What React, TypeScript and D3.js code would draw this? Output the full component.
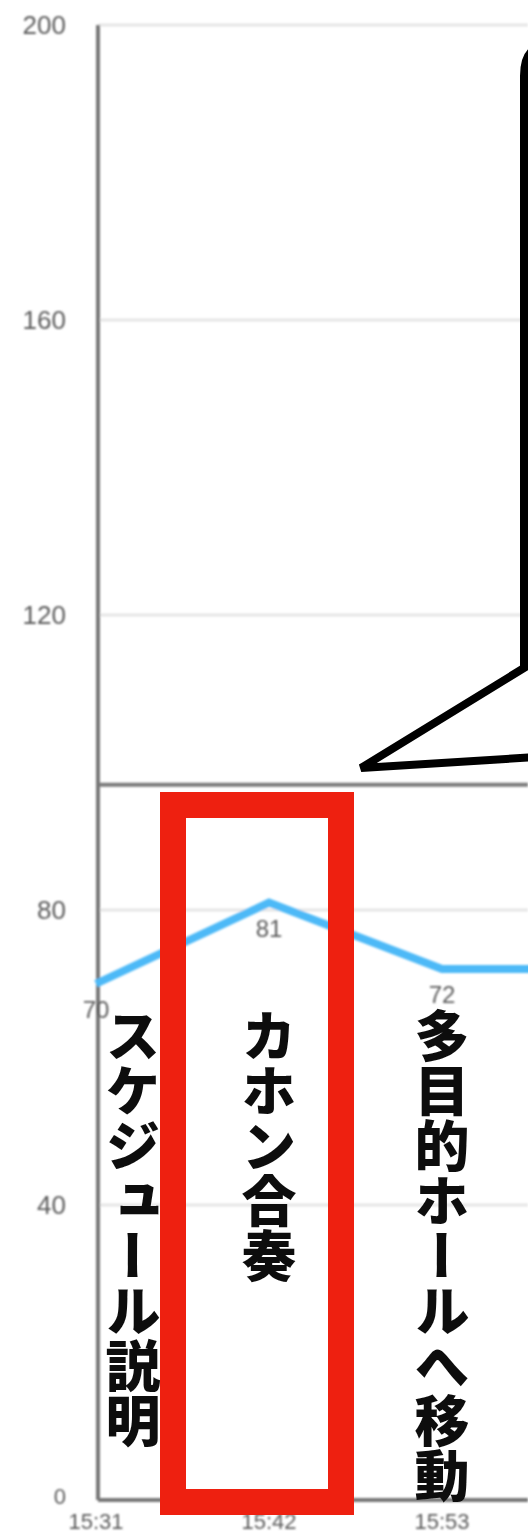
import React from "react";
import * as d3 from "d3";

// Pulse readings over the session
const times = ["15:31", "15:42", "15:53", "16:04"];
const pulse = [70, 81, 72, 72];
const activities = ["スケジュール説明", "カホン合奏", "多目的ホールへ移動"];
const yTicks = [0, 40, 80, 120, 160, 200];
const referenceLevel = 97;

const W = 528;
const H = 1537;

export default function App() {
  const axisX = 98;
  const x = d3.scalePoint<string>().domain(times).range([96, 96 + 173 * (times.length - 1)]);
  const y = d3.scaleLinear().domain([0, 200]).range([1500, 25]);

  const line = d3
    .line<number>()
    .x((_, i) => x(times[i]) as number)
    .y((d) => y(d));

  const visible = times.map((t, i) => i).filter((i) => (x(times[i]) as number) < W - 30);
  const red = "#ee2010";

  return (
    <svg
      width={W}
      height={H}
      style={{ position: "absolute", left: 0, top: 0, display: "block", background: "#fff" }}
      fontFamily="Liberation Sans, Arial, sans-serif"
    >
      <defs>
        <filter id="soft" x="-5%" y="-5%" width="110%" height="110%">
          <feGaussianBlur stdDeviation="0.9" />
        </filter>
        <filter id="softer" x="-5%" y="-5%" width="110%" height="110%">
          <feGaussianBlur stdDeviation="0.5" />
        </filter>
      </defs>
      <rect width={W} height={H} fill="#fff" />

      <g filter="url(#soft)">
        {/* gridlines */}
        {yTicks.filter((t) => t > 0).map((t) => (
          <line key={t} x1={axisX} x2={W} y1={y(t)} y2={y(t)} stroke="#e6e6e6" strokeWidth={3} />
        ))}
        {/* reference level */}
        <line x1={axisX} x2={W} y1={y(referenceLevel)} y2={y(referenceLevel)} stroke="#7a7a7a" strokeWidth={4} />
        {/* axes */}
        <line x1={axisX} x2={axisX} y1={y(200)} y2={y(0)} stroke="#777" strokeWidth={4} />
        <line x1={axisX} x2={W} y1={y(0)} y2={y(0)} stroke="#777" strokeWidth={4} />
        {/* y tick labels */}
        {yTicks.map((t) => (
          <text key={t} x={66} y={y(t) + (t === 0 ? 4 : 9)} textAnchor="end" fontSize={t === 0 ? 22 : 26} fill="#5c5c5c">
            {t}
          </text>
        ))}
        {/* x tick labels */}
        {visible.map((i) => (
          <text key={times[i]} x={x(times[i]) as number} y={1529} textAnchor="middle" fontSize={22} fill="#5c5c5c">
            {times[i]}
          </text>
        ))}
        {/* series */}
        <path d={line(pulse) ?? ""} fill="none" stroke="#4db9f7" strokeWidth={8} strokeLinejoin="miter" />
        {visible.map((i) => (
          <text key={i} x={x(times[i]) as number} y={y(pulse[i]) + 34} textAnchor="middle" fontSize={24} fill="#5c5c5c">
            {pulse[i]}
          </text>
        ))}
      </g>

      {/* activity names */}
      <g filter="url(#softer)">
        {activities.map((a, i) => (
          <text
            key={a}
            x={Math.max(x(times[i]) as number, axisX + 35)}
            y={1008}
            fontSize={55}
            fontWeight={900}
            fill="#111"
            fontFamily="'Noto Sans CJK JP', sans-serif"
            style={{ writingMode: "vertical-rl" } as React.CSSProperties}
          >
            {a}
          </text>
        ))}
      </g>

      {/* highlight frame */}
      <rect x={173} y={805} width={168} height={697} fill="none" stroke={red} strokeWidth={26} />

      {/* speech balloon */}
      <path
        d="M 560 46 L 548 46 Q 524 46 524 76 L 524 668 L 361 768 L 570 755"
        fill="#fff"
        stroke="#000"
        strokeWidth={8}
        strokeLinejoin="miter"
      />
    </svg>
  );
}
